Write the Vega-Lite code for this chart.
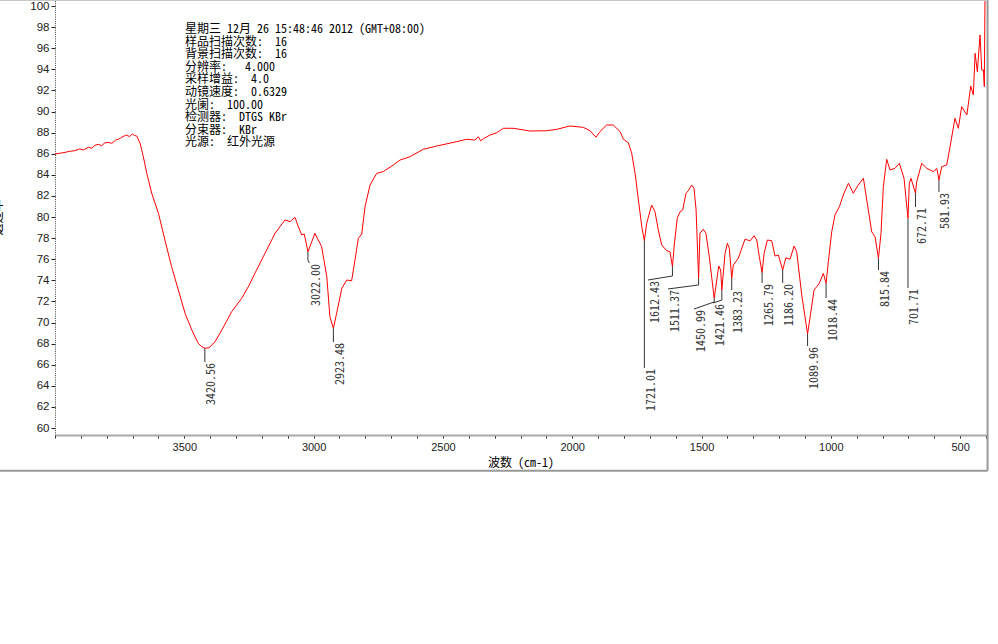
{
  "$schema": "https://vega.github.io/schema/vega-lite/v6.json",
  "width": 931,
  "height": 435,
  "autosize": {"type": "none"},
  "padding": {"left": 55, "top": 0, "right": 12, "bottom": 209},
  "background": "white",
  "config": {
    "view": {"stroke": null},
    "axisX": {
      "titleFont": "Noto Sans Mono CJK SC, Noto Sans CJK SC, monospace",
      "titleFontSize": 12, "titleFontWeight": "normal", "titleColor": "#000",
      "titleY": 22, "titleBaseline": "top",
      "tickSize": 3, "tickColor": "#222", "tickWidth": 1,
      "domainColor": "#aaaaaa", "domainWidth": 2,
      "labelFont": "Liberation Sans", "labelFontSize": 11, "labelColor": "#222",
      "labelPadding": 3, "labelDx": -2, "labelFlush": false, "labelOverlap": false,
      "grid": false
    },
    "axisY": {
      "titleFont": "Noto Sans CJK SC", "titleFontSize": 12, "titleFontWeight": "normal", "titleColor": "#000",
      "titleX": -51, "titleY": 217, "titleAngle": -90, "titleBaseline": "bottom", "titleAlign": "center",
      "tickSize": 4, "tickColor": "#222",
      "domainColor": "#444444", "domainDash": [1, 1.2], "domainWidth": 1,
      "labelFont": "Liberation Sans", "labelFontSize": 11.5, "labelColor": "#222",
      "labelPadding": 2, "labelFlush": false, "labelOverlap": false,
      "grid": false
    }
  },
  "datasets": {
    "spectrum": [
      {"wn":4000,"t":85.97},{"wn":3980,"t":86.05},{"wn":3961,"t":86.13},{"wn":3945,"t":86.22},{"wn":3923,"t":86.29},
      {"wn":3905,"t":86.45},{"wn":3890,"t":86.36},{"wn":3871,"t":86.61},{"wn":3858,"t":86.52},{"wn":3846,"t":86.8},
      {"wn":3833,"t":86.89},{"wn":3820,"t":86.76},{"wn":3808,"t":87.02},{"wn":3794,"t":87.08},{"wn":3780,"t":86.98},
      {"wn":3766,"t":87.28},{"wn":3752,"t":87.4},{"wn":3742,"t":87.56},{"wn":3731,"t":87.7},{"wn":3723,"t":87.77},
      {"wn":3712,"t":87.62},{"wn":3701,"t":87.87},{"wn":3693,"t":87.74},{"wn":3684,"t":87.68},{"wn":3671,"t":86.99},
      {"wn":3658.5,"t":85.72},{"wn":3645,"t":84.14},{"wn":3626,"t":82.25},{"wn":3600,"t":80.35},{"wn":3575,"t":77.82},
      {"wn":3549,"t":75.29},{"wn":3523,"t":73.08},{"wn":3497,"t":70.87},{"wn":3471,"t":69.29},{"wn":3446,"t":68.03},
      {"wn":3432,"t":67.7},{"wn":3420.56,"t":67.56},{"wn":3404.5,"t":67.61},{"wn":3381,"t":68.18},{"wn":3355,"t":69.29},
      {"wn":3317,"t":71.02},{"wn":3278,"t":72.3},{"wn":3250,"t":73.5},{"wn":3227,"t":74.66},{"wn":3188,"t":76.56},
      {"wn":3149,"t":78.46},{"wn":3111,"t":79.72},{"wn":3091,"t":79.56},{"wn":3072,"t":79.97},{"wn":3059,"t":79.08},
      {"wn":3046,"t":78.3},{"wn":3036,"t":78.39},{"wn":3022,"t":76.71},{"wn":3007,"t":77.66},{"wn":2995,"t":78.46},
      {"wn":2969,"t":77.19},{"wn":2949,"t":74.34},{"wn":2937,"t":70.55},{"wn":2923.48,"t":69.45},{"wn":2911,"t":70.87},
      {"wn":2891,"t":73.24},{"wn":2872,"t":74.03},{"wn":2853,"t":73.96},{"wn":2840,"t":75.93},{"wn":2827,"t":77.98},
      {"wn":2814,"t":78.39},{"wn":2801,"t":80.98},{"wn":2782,"t":83.03},{"wn":2756,"t":84.14},{"wn":2731,"t":84.3},
      {"wn":2692,"t":84.93},{"wn":2666,"t":85.4},{"wn":2627,"t":85.72},{"wn":2576,"t":86.42},{"wn":2524,"t":86.73},
      {"wn":2447,"t":87.14},{"wn":2408,"t":87.37},{"wn":2376,"t":87.3},{"wn":2363,"t":87.61},{"wn":2354,"t":87.23},
      {"wn":2341,"t":87.46},{"wn":2318,"t":87.77},{"wn":2292,"t":87.99},{"wn":2266,"t":88.41},{"wn":2228,"t":88.41},
      {"wn":2163,"t":88.15},{"wn":2099,"t":88.18},{"wn":2060,"t":88.31},{"wn":2009,"t":88.63},{"wn":1957,"t":88.5},
      {"wn":1931,"t":88.18},{"wn":1908,"t":87.56},{"wn":1893,"t":88.09},{"wn":1867,"t":88.72},{"wn":1841,"t":88.72},
      {"wn":1815,"t":88.09},{"wn":1802,"t":87.37},{"wn":1783,"t":87.04},{"wn":1770,"t":86.04},{"wn":1757,"t":84.14},
      {"wn":1744,"t":81.61},{"wn":1731,"t":79.08},{"wn":1721.01,"t":77.75},{"wn":1712,"t":79.4},{"wn":1693,"t":81.14},
      {"wn":1680,"t":80.5},{"wn":1667,"t":78.77},{"wn":1654,"t":77.35},{"wn":1635,"t":76.81},{"wn":1622,"t":76.71},
      {"wn":1612.43,"t":75.29},{"wn":1606,"t":77.19},{"wn":1594,"t":79.88},{"wn":1583,"t":80.5},{"wn":1573,"t":80.66},
      {"wn":1560,"t":82.25},{"wn":1551,"t":82.49},{"wn":1538,"t":83.03},{"wn":1529,"t":82.72},{"wn":1521,"t":80.66},
      {"wn":1511.37,"t":74.19},{"wn":1506,"t":78.46},{"wn":1493,"t":78.84},{"wn":1483,"t":78.46},{"wn":1470,"t":76.24},
      {"wn":1450.99,"t":72.3},{"wn":1441,"t":74.03},{"wn":1433.5,"t":75.36},{"wn":1426,"t":74.98},{"wn":1421.46,"t":73.08},
      {"wn":1409,"t":76.56},{"wn":1400,"t":77.51},{"wn":1392.5,"t":77.04},{"wn":1383.23,"t":74.19},{"wn":1377,"t":75.45},
      {"wn":1358,"t":76.09},{"wn":1332,"t":77.89},{"wn":1312,"t":77.75},{"wn":1297,"t":78.23},{"wn":1286.5,"t":77.82},
      {"wn":1276.5,"t":76.24},{"wn":1265.79,"t":74.72},{"wn":1258,"t":76.56},{"wn":1245.5,"t":77.82},{"wn":1228.5,"t":77.75},
      {"wn":1216,"t":76.3},{"wn":1203,"t":76.4},{"wn":1186.2,"t":74.98},{"wn":1174,"t":76.14},{"wn":1158,"t":75.99},
      {"wn":1142,"t":77.25},{"wn":1132,"t":76.71},{"wn":1112.5,"t":72.61},{"wn":1089.96,"t":68.91},{"wn":1078,"t":70.87},
      {"wn":1065,"t":73.08},{"wn":1044.5,"t":73.72},{"wn":1029,"t":74.66},{"wn":1018.44,"t":73.72},{"wn":1009.6,"t":75.76},
      {"wn":996.5,"t":78.61},{"wn":984,"t":80.19},{"wn":967,"t":80.98},{"wn":950,"t":82.2},{"wn":932,"t":83.2},
      {"wn":913,"t":82.25},{"wn":895,"t":83.0},{"wn":874,"t":83.67},{"wn":861,"t":81.61},{"wn":842,"t":78.61},
      {"wn":829,"t":78.13},{"wn":815.84,"t":76.09},{"wn":806,"t":78.46},{"wn":797,"t":82.87},{"wn":784,"t":85.47},
      {"wn":771,"t":84.46},{"wn":752,"t":84.62},{"wn":735,"t":85.09},{"wn":717,"t":83.67},{"wn":701.71,"t":79.88},
      {"wn":696.5,"t":83.2},{"wn":690,"t":83.67},{"wn":672.71,"t":82.25},{"wn":668,"t":83.35},{"wn":648.5,"t":85.09},
      {"wn":629,"t":84.62},{"wn":604,"t":84.3},{"wn":590,"t":84.6},{"wn":581.93,"t":83.51},{"wn":571,"t":84.77},
      {"wn":552,"t":84.93},{"wn":539,"t":86.66},{"wn":520,"t":89.36},{"wn":507,"t":88.41},{"wn":494,"t":90.46},
      {"wn":474,"t":89.67},{"wn":459,"t":92.42},{"wn":449,"t":91.57},{"wn":442,"t":95.52},{"wn":433.5,"t":93.77},
      {"wn":423,"t":97.25},{"wn":416.5,"t":93.94},{"wn":410,"t":93.94},{"wn":406.5,"t":92.35},{"wn":404,"t":100.4},
      {"wn":402,"t":101.5}
    ],
    "leaders": [
      {"id":"3420.56","seq":1,"wn":3420.56,"t":67.56},{"id":"3420.56","seq":2,"wn":3420.56,"t":66.26},
      {"id":"3022.00","seq":1,"wn":3022,"t":76.71},{"id":"3022.00","seq":2,"wn":3022,"t":75.93},{"id":"3022.00","seq":3,"wn":3016.6,"t":75.64},
      {"id":"2923.48","seq":1,"wn":2923.48,"t":69.45},{"id":"2923.48","seq":2,"wn":2923.48,"t":68.15},
      {"id":"1721.01","seq":1,"wn":1721.01,"t":77.75},{"id":"1721.01","seq":2,"wn":1721.01,"t":65.69},
      {"id":"1612.43","seq":1,"wn":1612.43,"t":75.29},{"id":"1612.43","seq":2,"wn":1612.43,"t":74.41},{"id":"1612.43","seq":3,"wn":1706.9,"t":74.03},
      {"id":"1511.37","seq":1,"wn":1511.37,"t":74.19},{"id":"1511.37","seq":2,"wn":1511.37,"t":73.56},{"id":"1511.37","seq":3,"wn":1629.5,"t":73.18},
      {"id":"1450.99","seq":1,"wn":1450.99,"t":72.3},{"id":"1450.99","seq":2,"wn":1450.99,"t":71.95},{"id":"1450.99","seq":3,"wn":1529,"t":71.28},
      {"id":"1421.46","seq":1,"wn":1421.46,"t":73.08},{"id":"1421.46","seq":2,"wn":1421.46,"t":72.13},{"id":"1421.46","seq":3,"wn":1455.5,"t":71.85},
      {"id":"1383.23","seq":1,"wn":1383.23,"t":74.19},{"id":"1383.23","seq":2,"wn":1383.23,"t":73.08},
      {"id":"1265.79","seq":1,"wn":1265.79,"t":74.72},{"id":"1265.79","seq":2,"wn":1265.79,"t":73.75},
      {"id":"1186.20","seq":1,"wn":1186.2,"t":74.98},{"id":"1186.20","seq":2,"wn":1186.2,"t":73.75},
      {"id":"1089.96","seq":1,"wn":1089.96,"t":68.91},{"id":"1089.96","seq":2,"wn":1089.96,"t":67.77},
      {"id":"1018.44","seq":1,"wn":1018.44,"t":73.72},{"id":"1018.44","seq":2,"wn":1018.44,"t":72.32},
      {"id":"815.84","seq":1,"wn":815.84,"t":76.09},{"id":"815.84","seq":2,"wn":815.84,"t":74.98},
      {"id":"701.71","seq":1,"wn":701.71,"t":79.88},{"id":"701.71","seq":2,"wn":701.71,"t":73.27},
      {"id":"672.71","seq":1,"wn":672.71,"t":82.25},{"id":"672.71","seq":2,"wn":672.71,"t":80.95},
      {"id":"581.93","seq":1,"wn":581.93,"t":83.51},{"id":"581.93","seq":2,"wn":581.93,"t":82.37}
    ],
    "peaks": [
      {"label":"3420.56","lx":3420.56,"ly":66.26},
      {"label":"3022.00","lx":3016.6,"ly":75.64},
      {"label":"2923.48","lx":2923.48,"ly":68.15},
      {"label":"1721.01","lx":1721.01,"ly":65.69},
      {"label":"1612.43","lx":1706.9,"ly":74.03},
      {"label":"1511.37","lx":1629.5,"ly":73.18},
      {"label":"1450.99","lx":1529,"ly":71.28},
      {"label":"1421.46","lx":1455.5,"ly":71.85},
      {"label":"1383.23","lx":1383.23,"ly":73.08},
      {"label":"1265.79","lx":1265.79,"ly":73.75},
      {"label":"1186.20","lx":1186.2,"ly":73.75},
      {"label":"1089.96","lx":1089.96,"ly":67.77},
      {"label":"1018.44","lx":1018.44,"ly":72.32},
      {"label":"815.84","lx":815.84,"ly":74.98},
      {"label":"701.71","lx":701.71,"ly":73.27},
      {"label":"672.71","lx":672.71,"ly":80.95},
      {"label":"581.93","lx":581.93,"ly":82.37}
    ]
  },
  "layer": [
    {
      "data": {"name": "spectrum"},
      "mark": {"type": "line", "color": "#ff0000", "strokeWidth": 1, "clip": true},
      "encoding": {
        "x": {
          "field": "wn", "type": "quantitative",
          "scale": {"domain": [400, 4000], "reverse": true, "nice": false, "zero": false},
          "axis": {"title": "波数 (cm-1)", "format": "d", "values": [400,500,600,700,800,900,1000,1100,1200,1300,1400,1500,1600,1700,1800,1900,2000,2100,2200,2300,2400,2500,2600,2700,2800,2900,3000,3100,3200,3300,3400,3500,3600,3700,3800,3900,4000], "labelExpr": "datum.value % 500 === 0 && datum.value < 4000 ? datum.label : ''"}
        },
        "y": {
          "field": "t", "type": "quantitative",
          "scale": {"domain": [59.34, 100.57], "nice": false, "zero": false},
          "axis": {"title": "透过率", "values": [60,62,64,66,68,70,72,74,76,78,80,82,84,86,88,90,92,94,96,98,100]}
        }
      }
    },
    {
      "data": {"name": "leaders"},
      "mark": {"type": "line", "color": "#333333", "strokeWidth": 1, "clip": false},
      "encoding": {
        "x": {"field": "wn", "type": "quantitative",
          "axis": {"title": "波数 (cm-1)", "format": "d", "values": [400,500,600,700,800,900,1000,1100,1200,1300,1400,1500,1600,1700,1800,1900,2000,2100,2200,2300,2400,2500,2600,2700,2800,2900,3000,3100,3200,3300,3400,3500,3600,3700,3800,3900,4000], "labelExpr": "datum.value % 500 === 0 && datum.value < 4000 ? datum.label : ''"}},
        "y": {"field": "t", "type": "quantitative",
          "axis": {"title": "透过率", "values": [60,62,64,66,68,70,72,74,76,78,80,82,84,86,88,90,92,94,96,98,100]}},
        "detail": {"field": "id"},
        "order": {"field": "seq"}
      }
    },
    {
      "data": {"name": "peaks"},
      "mark": {"type": "text", "angle": 270, "align": "right", "baseline": "top", "dx": -1, "dy": 1.5,
               "font": "Noto Sans Mono CJK SC, Liberation Mono, monospace", "fontSize": 12, "color": "#333333"},
      "encoding": {
        "x": {"field": "lx", "type": "quantitative",
          "axis": {"title": "波数 (cm-1)", "format": "d", "values": [400,500,600,700,800,900,1000,1100,1200,1300,1400,1500,1600,1700,1800,1900,2000,2100,2200,2300,2400,2500,2600,2700,2800,2900,3000,3100,3200,3300,3400,3500,3600,3700,3800,3900,4000], "labelExpr": "datum.value % 500 === 0 && datum.value < 4000 ? datum.label : ''"}},
        "y": {"field": "ly", "type": "quantitative",
          "axis": {"title": "透过率", "values": [60,62,64,66,68,70,72,74,76,78,80,82,84,86,88,90,92,94,96,98,100]}},
        "text": {"field": "label"}
      }
    },
    {
      "data": {"values": [{}]},
      "mark": {"type": "text", "align": "left", "baseline": "top", "lineHeight": 12.6,
               "font": "Noto Sans Mono CJK SC, Noto Sans CJK SC, monospace", "fontSize": 12, "color": "#000000",
               "text": [
                 "星期三 12月 26 15:48:46 2012 (GMT+08:00)",
                 "样品扫描次数:\u00a0\u00a016",
                 "背景扫描次数:\u00a0\u00a016",
                 "分辨率:\u00a0\u00a0\u00a04.000",
                 "采样增益:\u00a0\u00a04.0",
                 "动镜速度:\u00a0\u00a00.6329",
                 "光阑:\u00a0\u00a0100.00",
                 "检测器:\u00a0\u00a0DTGS KBr",
                 "分束器:\u00a0\u00a0KBr",
                 "光源:\u00a0\u00a0红外光源"
               ]},
      "encoding": {
        "x": {"datum": 3497,
          "axis": {"title": "波数 (cm-1)", "format": "d", "values": [400,500,600,700,800,900,1000,1100,1200,1300,1400,1500,1600,1700,1800,1900,2000,2100,2200,2300,2400,2500,2600,2700,2800,2900,3000,3100,3200,3300,3400,3500,3600,3700,3800,3900,4000], "labelExpr": "datum.value % 500 === 0 && datum.value < 4000 ? datum.label : ''"}},
        "y": {"datum": 98.3,
          "axis": {"title": "透过率", "values": [60,62,64,66,68,70,72,74,76,78,80,82,84,86,88,90,92,94,96,98,100]}}
      }
    },
    {
      "data": {"values": [{}]},
      "mark": {"type": "rule", "color": "#999999", "strokeWidth": 2, "clip": false},
      "encoding": {
        "x": {"datum": 394,
          "axis": {"title": "波数 (cm-1)", "format": "d", "values": [400,500,600,700,800,900,1000,1100,1200,1300,1400,1500,1600,1700,1800,1900,2000,2100,2200,2300,2400,2500,2600,2700,2800,2900,3000,3100,3200,3300,3400,3500,3600,3700,3800,3900,4000], "labelExpr": "datum.value % 500 === 0 && datum.value < 4000 ? datum.label : ''"}},
        "y": {"datum": 100.6,
          "axis": {"title": "透过率", "values": [60,62,64,66,68,70,72,74,76,78,80,82,84,86,88,90,92,94,96,98,100]}},
        "y2": {"datum": 55.95}
      }
    },
    {
      "data": {"values": [{}]},
      "mark": {"type": "rule", "color": "#999999", "strokeWidth": 2, "clip": false},
      "encoding": {
        "x": {"datum": 4213,
          "axis": {"title": "波数 (cm-1)", "format": "d", "values": [400,500,600,700,800,900,1000,1100,1200,1300,1400,1500,1600,1700,1800,1900,2000,2100,2200,2300,2400,2500,2600,2700,2800,2900,3000,3100,3200,3300,3400,3500,3600,3700,3800,3900,4000], "labelExpr": "datum.value % 500 === 0 && datum.value < 4000 ? datum.label : ''"}},
        "x2": {"datum": 394},
        "y": {"datum": 55.95,
          "axis": {"title": "透过率", "values": [60,62,64,66,68,70,72,74,76,78,80,82,84,86,88,90,92,94,96,98,100]}}
      }
    },
    {
      "data": {"values": [{}]},
      "mark": {"type": "rule", "color": "#c8c8c8", "strokeWidth": 1, "clip": false},
      "encoding": {
        "x": {"datum": 4213,
          "axis": {"title": "波数 (cm-1)", "format": "d", "values": [400,500,600,700,800,900,1000,1100,1200,1300,1400,1500,1600,1700,1800,1900,2000,2100,2200,2300,2400,2500,2600,2700,2800,2900,3000,3100,3200,3300,3400,3500,3600,3700,3800,3900,4000], "labelExpr": "datum.value % 500 === 0 && datum.value < 4000 ? datum.label : ''"}},
        "x2": {"datum": 394},
        "y": {"datum": 100.52,
          "axis": {"title": "透过率", "values": [60,62,64,66,68,70,72,74,76,78,80,82,84,86,88,90,92,94,96,98,100]}}
      }
    }
  ]
}
